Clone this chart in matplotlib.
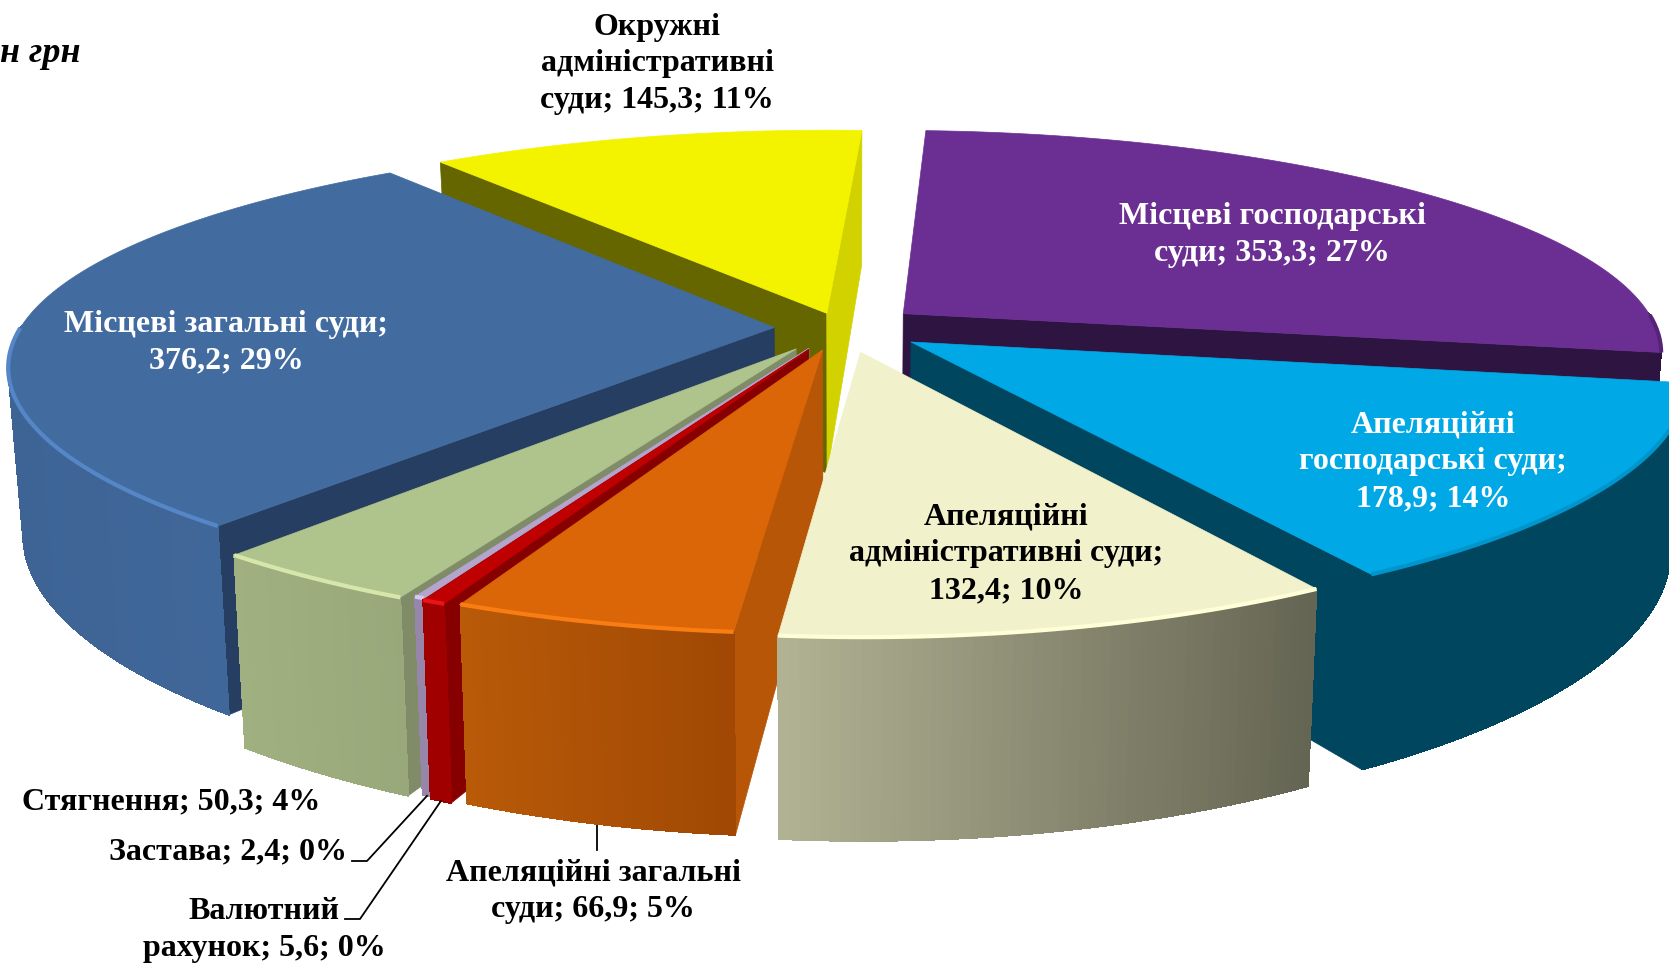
import numpy as np
import matplotlib
matplotlib.use("Agg")
import matplotlib.pyplot as plt
from matplotlib.collections import PolyCollection

# ---- data ----
names = ["Місцеві господарські суди", "Апеляційні господарські суди",
         "Апеляційні адміністративні суди", "Апеляційні загальні суди",
         "Валютний рахунок", "Застава", "Стягнення",
         "Місцеві загальні суди", "Окружні адміністративні суди"]
values = [353.3, 178.9, 132.4, 66.9, 5.6, 2.4, 50.3, 376.2, 145.3]
explode = [0.105, 0.11, 0.11, 0.10, 0.105, 0.10, 0.11, 0.09, 0.07]
label_texts = ["Місцеві господарські\nсуди; 353,3; 27%",
               "Апеляційні\nгосподарські суди;\n178,9; 14%",
               "Апеляційні\nадміністративні суди;\n132,4; 10%",
               "Апеляційні загальні\nсуди; 66,9; 5%",
               "Валютний\nрахунок; 5,6; 0%",
               "Застава; 2,4; 0%",
               "Стягнення; 50,3; 4%",
               "Місцеві загальні суди;\n376,2; 29%",
               "Окружні\nадміністративні\nсуди; 145,3; 11%"]
label_pos = [(1272, 235), (1433, 462), (1006, 554), (593, 891), (264, 930),
             (228, 852), (171, 802), (226, 343), (657, 64)]
label_col = ["white", "white", "black", "black", "black", "black", "black", "white", "black"]

# ---- style (rgb) ----
top_col = [(107,47,148),(0,168,230),(241,241,204),(218,102,8),(190,0,0),(180,165,205),(175,196,140),(66,108,160),(243,243,0)]
wall_l = [(45,20,65),(0,70,95),(178,178,148),(184,90,8),(160,0,0),(150,135,170),(160,176,128),(62,100,150),(210,210,0)]
wall_r = [(45,20,65),(0,70,95),(100,100,82),(160,72,4),(160,0,0),(150,135,170),(152,168,122),(66,106,155),(210,210,0)]
wall_s = [(45,20,65),(0,70,95),(200,200,170),(184,86,8),(135,0,0),(150,135,170),(128,140,104),(38,62,98),(102,102,0)]
wall_e = [(45,20,65),(0,70,95),(200,200,170),(184,86,8),(135,0,0),(150,135,170),(128,140,104),(38,62,98),(210,210,0)]
rim_col = [(85,35,120),(0,150,205),(255,255,215),(250,125,20),(235,20,20),(215,200,235),(215,230,170),(85,135,200),(243,243,0)]
draw_order = [0, 8, 7, 1, 6, 5, 4, 3, 2]
start_deg = 3.0
CX, CY, RX, RY, PX, PY, H, SHRINK = 842.0, 328.0, 760.0, 222.0, 0.20, 0.185, 162.0, 0.982


def project(X, Y, lower=False):
    wx = 1 + PX * Y
    wy = 1 + PY * Y
    x = RX * X / wx * (0.992 + 0.03125 * Y - 0.0266 * Y * Y)
    y = CY - RY * Y / wy
    if lower:
        return CX + x * SHRINK, y + H / wy
    return CX + x, y


def rgb(c):
    return tuple(v / 255 for v in c)


fig = plt.figure(figsize=(16.69, 9.63), dpi=100)
ax = fig.add_axes([0, 0, 1, 1])
ax.set_xlim(0, 1669)
ax.set_ylim(963, 0)
ax.axis("off")

fr = np.array(values) / np.sum(values) * 360
t0s = start_deg + np.concatenate([[0], np.cumsum(fr)[:-1]])
t1s = t0s + fr
geom = {}

for i in draw_order:
    t0, t1 = np.radians(t0s[i]), np.radians(t1s[i])
    mid = (t0 + t1) / 2
    ox, oy = explode[i] * np.sin(mid), explode[i] * np.cos(mid)
    ts = np.linspace(t0, t1, max(3, int((t1 - t0) * 90)))
    GX, GY = ox + np.sin(ts), oy + np.cos(ts)
    tx, ty = project(GX, GY)
    bx, by = project(GX, GY, lower=True)
    ax0, ay0 = project(ox, oy)
    bx0, by0 = project(ox, oy, lower=True)
    geom[i] = (mid, ox, oy)
    z = draw_order.index(i) * 10

    # radial walls, drawn only where they face the viewer
    qx, qy = project(ox + 0.2 * np.sin(mid), oy + 0.2 * np.cos(mid))
    for k, col in ((0, wall_s[i]), (-1, wall_e[i])):
        ex, ey = tx[k] - ax0, ty[k] - ay0
        side_in = ex * (qy - ay0) - ey * (qx - ax0)
        side_down = ex * 1.0
        if side_in * side_down < 0:
            ax.fill([ax0, tx[k], bx[k], bx0], [ay0, ty[k], by[k], by0],
                    color=rgb(col), lw=0.5, zorder=z + 1)

    # outer wall with a horizontal gradient
    ox1, oy1 = project(ox + 1.01 * np.sin(ts), oy + 1.01 * np.cos(ts))
    vis = oy1 > ty
    polys, cols = [], []
    xmin, xmax = tx.min(), tx.max()
    for j in range(len(ts) - 1):
        if vis[j] or vis[j + 1]:
            polys.append([(tx[j], ty[j]), (tx[j + 1], ty[j + 1]), (bx[j + 1], by[j + 1]), (bx[j], by[j])])
            f = ((tx[j] + tx[j + 1]) / 2 - xmin) / max(1, xmax - xmin)
            cols.append(tuple((1 - f) * a / 255 + f * b / 255 for a, b in zip(wall_l[i], wall_r[i])))
    if polys:
        ax.add_collection(PolyCollection(polys, facecolors=cols, edgecolors=cols, linewidths=0.6,
                                         antialiaseds=False, zorder=z + 2))

    # top surface
    ax.fill(np.r_[ax0, tx], np.r_[ay0, ty], color=rgb(top_col[i]), lw=0.5, zorder=z + 3)
    # rim highlight
    mtx, mty = tx.astype(float).copy(), ty.astype(float).copy()
    mtx[~vis] = np.nan
    ax.plot(mtx, mty, color=rgb(rim_col[i]), lw=3, solid_capstyle="butt", zorder=z + 4)

# labels
for i, (s, (x, y), c) in enumerate(zip(label_texts, label_pos, label_col)):
    ax.text(x, y, s, ha="center", va="center", color=c, fontsize=23, fontweight="bold",
            family="Liberation Serif", linespacing=1.35, zorder=200)
ax.text(0, 54, "н грн", ha="left", va="center", fontsize=26, fontweight="bold", style="italic",
        family="Liberation Serif", zorder=200)


# leader lines start from the slices' lower rim
def rim_point(i):
    mid, ox, oy = geom[i]
    return project(ox + np.sin(mid), oy + np.cos(mid), lower=True)


for i, path in ((5, [(367, 861), (352, 861)]), (4, [(360, 919), (345, 919)])):
    sx, sy = rim_point(i)
    xs, ys = zip(*([(sx, sy)] + path))
    ax.plot(xs, ys, color="black", lw=1.3, zorder=150)
sx, sy = rim_point(3)
ax.plot([sx, sx], [sy, 850], color="black", lw=1.3, zorder=1)

fig.savefig("out.png", dpi=100, facecolor="white")
